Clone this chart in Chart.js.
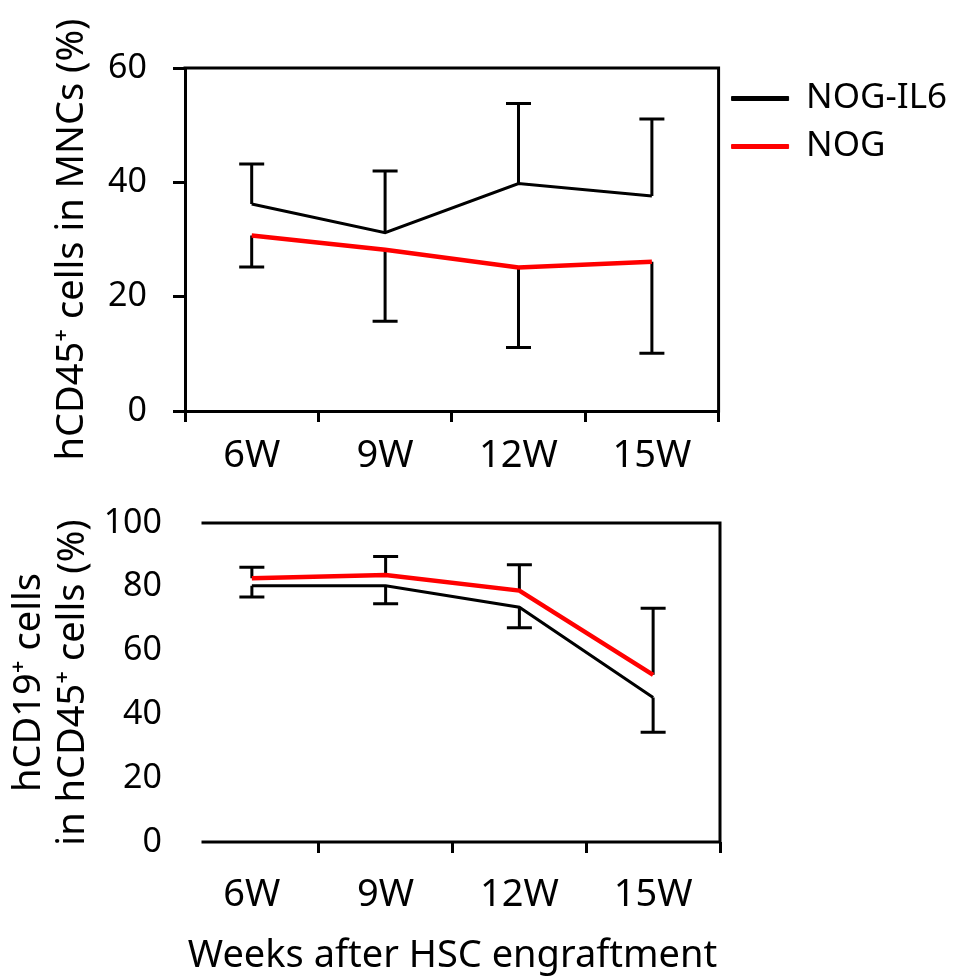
<!DOCTYPE html>
<html>
<head>
<meta charset="utf-8">
<script src="https://cdn.jsdelivr.net/npm/chart.js@4.4.0/dist/chart.umd.min.js"></script>
<style>
  html, body { margin: 0; padding: 0; background: #fff; }
  #wrap { position: relative; width: 961px; height: 977px; }
  #topChart { position: absolute; left: 0; top: 0; }
  #bottomChart { position: absolute; left: 0; top: 490px; }
</style>
</head>
<body>
<div id="wrap">
  <canvas id="topChart" width="961" height="490"></canvas>
  <canvas id="bottomChart" width="961" height="487"></canvas>
</div>
<script>
const weeks = ['6W', '9W', '12W', '15W'];

// upper panel: hCD45+ cells in MNCs (%)
const cd45Il6 = [36.2, 31.2, 39.8, 37.6];
const cd45Il6Upper = [43.2, 42.0, 53.8, 51.1];   // top of error bar
const cd45Nog = [30.7, 28.2, 25.1, 26.1];
const cd45NogLower = [25.2, 15.7, 11.1, 10.1];   // bottom of error bar
const cd45Ticks = [0, 20, 40, 60];

// lower panel: hCD19+ cells in hCD45+ cells (%)
const cd19Il6 = [80.3, 80.3, 73.6, 45.3];
const cd19Il6Lower = [76.8, 74.7, 67.2, 34.4];
const cd19Nog = [82.7, 83.7, 78.8, 52.4];
const cd19NogUpper = [86.1, 89.5, 86.9, 73.3];
const cd19Ticks = [0, 20, 40, 60, 80, 100];

Chart.defaults.font.family = "'Noto Sans', 'DejaVu Sans', sans-serif";
Chart.defaults.color = '#000';

// error bars: vertical line from the point to the value in errorEnds, with a cap
const errorBars = {
  id: 'errorBars',
  beforeDatasetsDraw(chart) {
    const ctx = chart.ctx;
    const yScale = chart.scales.y;
    chart.data.datasets.forEach((ds, i) => {
      if (!ds.errorEnds) return;
      const meta = chart.getDatasetMeta(i);
      ctx.save();
      ctx.strokeStyle = '#000';
      ctx.lineWidth = 3;
      meta.data.forEach((pt, j) => {
        const yEnd = yScale.getPixelForValue(ds.errorEnds[j]);
        ctx.beginPath();
        ctx.moveTo(pt.x, pt.y);
        ctx.lineTo(pt.x, yEnd);
        ctx.moveTo(pt.x - 12.5, yEnd);
        ctx.lineTo(pt.x + 12.5, yEnd);
        ctx.stroke();
      });
      ctx.restore();
    });
  }
};

// top and right edges of the plot box (and bottom when the axis border is off)
const frame = {
  id: 'frame',
  afterDatasetsDraw(chart, args, opts) {
    const ctx = chart.ctx;
    const a = chart.chartArea;
    const x0 = a.left + (opts.inset || 0);
    ctx.save();
    ctx.strokeStyle = '#000';
    ctx.lineWidth = 3;
    ctx.lineCap = 'square';
    ctx.beginPath();
    ctx.moveTo(x0, a.top);
    ctx.lineTo(a.right, a.top);
    ctx.lineTo(a.right, a.bottom);
    if (opts.bottom) ctx.lineTo(x0, a.bottom);
    ctx.stroke();
    ctx.restore();
  }
};

function legendLabels(chart) {
  return Chart.defaults.plugins.legend.labels.generateLabels(chart).map(l => {
    l.lineWidth = 1;
    return l;
  });
}

// keep tick labels from pushing the plot area around
function fixWidth(w) {
  return s => {
    s.width = w;
    s.paddingTop = 0;
    s.paddingBottom = 0;
  };
}

new Chart(document.getElementById('topChart'), {
  type: 'line',
  data: {
    labels: weeks,
    datasets: [
      {
        label: 'NOG-IL6',
        data: cd45Il6,
        errorEnds: cd45Il6Upper,
        borderColor: '#000',
        backgroundColor: '#000',
        borderWidth: 3,
        pointRadius: 0,
        order: 1,
      },
      {
        label: 'NOG',
        data: cd45Nog,
        errorEnds: cd45NogLower,
        borderColor: '#ff0000',
        backgroundColor: '#ff0000',
        borderWidth: 4.5,
        pointRadius: 0,
        order: 0,
      },
    ],
  },
  options: {
    responsive: false,
    animation: false,
    layout: { padding: { left: 0, top: 68, right: 4, bottom: 0 } },
    plugins: {
      legend: {
        position: 'right',
        align: 'start',
        labels: {
          boxWidth: 57,
          boxHeight: 4,
          padding: 13,
          font: { size: 35 },
          color: '#000',
          generateLabels: legendLabels,
          sort: (a, b) => a.datasetIndex - b.datasetIndex,
        },
      },
      tooltip: { enabled: false },
      frame: {},
    },
    scales: {
      x: {
        offset: true,
        grid: { offset: true, drawOnChartArea: false, tickLength: 11, lineWidth: 3, color: '#000' },
        border: { display: true, width: 3, color: '#000' },
        ticks: { font: { size: 38 }, padding: 11, maxRotation: 0 },
        afterFit: s => { s.height = 79; },
      },
      y: {
        min: 0,
        max: 60,
        afterBuildTicks: s => { s.ticks = cd45Ticks.map(v => ({ value: v })); },
        grid: { drawOnChartArea: false, tickLength: 12, lineWidth: 3, color: '#000' },
        border: { display: true, width: 3, color: '#000' },
        ticks: { font: { size: 34 }, padding: 26 },
        title: {
          display: true,
          text: 'hCD45⁺ cells in MNCs (%)',
          font: { size: 38, lineHeight: 1.2 },
          padding: { top: 49, bottom: 0 },
        },
        afterFit: fixWidth(185),
      },
    },
  },
  plugins: [errorBars, frame],
});

new Chart(document.getElementById('bottomChart'), {
  type: 'line',
  data: {
    labels: weeks,
    datasets: [
      {
        label: 'NOG-IL6',
        data: cd19Il6,
        errorEnds: cd19Il6Lower,
        borderColor: '#000',
        backgroundColor: '#000',
        borderWidth: 3,
        pointRadius: 0,
        order: 1,
      },
      {
        label: 'NOG',
        data: cd19Nog,
        errorEnds: cd19NogUpper,
        borderColor: '#ff0000',
        backgroundColor: '#ff0000',
        borderWidth: 4.5,
        pointRadius: 0,
        order: 0,
      },
    ],
  },
  options: {
    responsive: false,
    animation: false,
    layout: { padding: { left: 0, top: 33, right: 241, bottom: 0 } },
    plugins: {
      legend: { display: false },
      tooltip: { enabled: false },
      frame: { inset: 18, bottom: true },
    },
    scales: {
      x: {
        offset: true,
        grid: {
          offset: true,
          drawOnChartArea: false,
          tickLength: 11,
          lineWidth: 3,
          color: c => (c.index === 0 ? 'rgba(0,0,0,0)' : '#000'),
        },
        border: { display: false },
        ticks: { font: { size: 38 }, padding: 19, maxRotation: 0 },
        title: {
          display: true,
          text: 'Weeks after HSC engraftment',
          font: { size: 38, lineHeight: 1.1 },
          padding: { top: 0, bottom: 0 },
        },
        afterFit: s => { s.height = 135; },
      },
      y: {
        min: 0,
        max: 100,
        afterBuildTicks: s => { s.ticks = cd19Ticks.map(v => ({ value: v })); },
        grid: { display: false, drawTicks: false },
        border: { display: false },
        ticks: { font: { size: 34 }, padding: 23 },
        title: {
          display: true,
          text: ['hCD19⁺ cells', 'in hCD45⁺ cells (%)'],
          font: { size: 38, lineHeight: 1.16 },
          padding: { top: 7, bottom: 0 },
        },
        afterFit: fixWidth(185),
      },
    },
  },
  plugins: [errorBars, frame],
});
</script>
</body>
</html>
